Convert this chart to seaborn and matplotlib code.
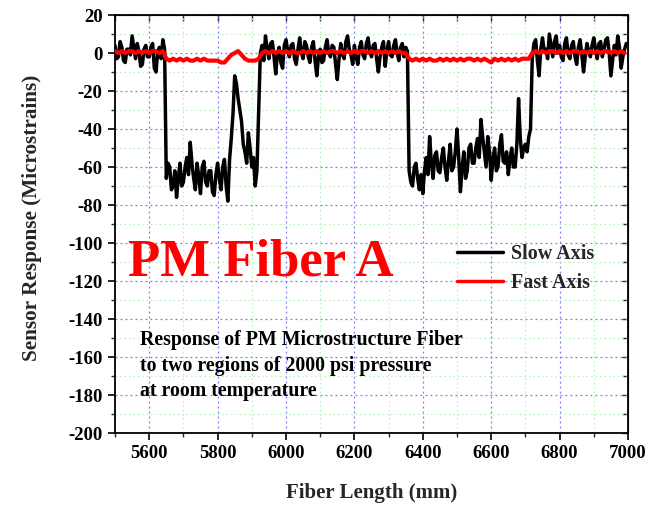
import numpy as np
import pandas as pd
import matplotlib
matplotlib.use("Agg")
import matplotlib.pyplot as plt
import seaborn as sns
from matplotlib.ticker import MultipleLocator

# Fiber length sample grids (mm)
slow_length = np.arange(5500, 7000, 5)
fast_length = np.arange(5500, 7000, 10)

# Slow axis response (microstrains), one row per 100 mm (5 mm spacing)
slow_axis = [
    4, -3, -2, 6, 3, -4, -5, 2, 2, -1, 9, 3, -3, 5, 1, -7, -6, 2, 4, -2,                      # 5500
    -2, 3, 5, -8, -10, 1, 3, -3, 7, 2, -66, -58, -60, -72, -70, -62, -76, -66, -58, -70,      # 5600
    -68, -60, -55, -64, -47, -58, -66, -72, -58, -65, -74, -60, -57, -68, -70, -62, -62, -73, -75, -64,  # 5700
    -58, -66, -72, -60, -56, -70, -78, -56, -45, -32, -12, -16, -24, -30, -36, -48, -52, -58, -42, -50,  # 5800
    -60, -55, -70, -62, -30, 0, 4, -4, 9, 2, -3, 5, 6, -2, -11, 0, 3, -5, -8, 4,              # 5900
    7, 1, -2, 4, 5, -3, -6, 2, 8, 0, -3, 6, 4, -2, -5, 3, 6, -4, -12, -2,                     # 6000
    2, -5, -4, 3, 7, 0, -2, 4, 3, -6, -14, -3, 5, -1, -3, 6, 9, 2, -1, -6,                    # 6100
    4, -2, -6, 3, 6, -1, -3, 5, 8, 1, -2, 4, 5, -3, -10, -2, 3, 6, -7, 1,                     # 6200
    6, -1, -2, 4, 7, 0, -4, 3, 5, -2, 3, 1, -62, -68, -70, -60, -58, -66, -72, -64,           # 6300
    -74, -62, -55, -64, -44, -58, -66, -54, -52, -62, -63, -55, -50, -60, -67, -57, -48, -62, -60, -52,  # 6400
    -40, -55, -73, -60, -52, -66, -62, -50, -48, -58, -58, -50, -45, -55, -35, -44, -52, -60, -44, -52,  # 6500
    -67, -56, -50, -62, -60, -48, -43, -57, -58, -52, -64, -56, -50, -60, -60, -48, -24, -45, -55, -50,  # 6600
    -48, -52, -44, -40, -3, 5, 7, -4, -12, 2, 8, 1, 2, -3, 10, 4, -2, 6, 9, 0,                # 6700
    4, -2, -4, 5, 8, -1, -3, 4, 6, -2, -6, 3, 7, -1, -10, -2, 5, 1, -2, 4,                    # 6800
    8, 2, -3, 5, 6, -2, 2, 7, 8, 0, -12, -4, 4, -1, 9, 3, -8, -2, 2, 5,                       # 6900
]

# Fast axis response (microstrains), 10 mm spacing
fast_axis = [
    1, 0, 1, 0, 1, 1, 0, 1, 0, 1,                # 5500
    0, 1, 1, 0, 1, -3, -4, -3, -4, -3,           # 5600
    -4, -3, -4, -4, -3, -4, -3, -4, -4, -4,      # 5700
    -4, -5, -5, -3, -1, 0, 1, -1, -3, -4,        # 5800
    -4, -4, -3, 0, 1, 0, 1, 0, 1, 0,             # 5900
    1, 0, 1, 0, 0, 1, 0, 1, 0, 1,                # 6000
    0, 1, 0, 1, 1, 0, 1, 0, 1, 0,                # 6100
    1, 0, 1, 1, 0, 1, 0, 1, 0, 1,                # 6200
    0, 1, 0, 1, 0, 0, -3, -4, -3, -4,            # 6300
    -3, -4, -3, -4, -4, -3, -4, -3, -4, -3,      # 6400
    -4, -3, -4, -3, -3, -4, -3, -4, -3, -4,      # 6500
    -5, -3, -4, -3, -4, -3, -4, -3, -4, -3,      # 6600
    -3, -3, 0, 1, 0, 1, 0, 1, 1, 0,              # 6700
    1, 0, 1, 0, 1, 1, 0, 1, 0, 1,                # 6800
    0, 1, 0, 1, 1, 0, 1, 0, 1, 0,                # 6900
]

series_names = ["Slow Axis", "Fast Axis"]
series_colors = ["#000000", "#ff0000"]

title_text = "PM Fiber A"
note_lines = ["Response of PM Microstructure Fiber",
              "to two regions of 2000 psi pressure",
              "at room temperature"]

x_ticks = [5600, 5800, 6000, 6200, 6400, 6600, 6800, 7000]
y_ticks = list(range(-200, 21, 20))

n_slow = min(len(slow_length), len(slow_axis))
n_fast = min(len(fast_length), len(fast_axis))
df_slow = pd.DataFrame({"Fiber Length (mm)": slow_length[:n_slow],
                        "Response": np.array(slow_axis[:n_slow], dtype=float)})
df_fast = pd.DataFrame({"Fiber Length (mm)": fast_length[:n_fast],
                        "Response": np.array(fast_axis[:n_fast], dtype=float)})

sns.set_style("white")
plt.rcParams["font.family"] = ["Liberation Serif", "DejaVu Serif"]
plt.rcParams["font.weight"] = "bold"

fig = plt.figure(figsize=(6.61, 5.05), dpi=100)
ax = fig.add_axes([115 / 661, 1 - 433 / 505, 513 / 661, 418 / 505])

# grid
ax.xaxis.set_major_locator(MultipleLocator(200))
ax.xaxis.set_minor_locator(MultipleLocator(100))
ax.yaxis.set_major_locator(MultipleLocator(20))
ax.yaxis.set_minor_locator(MultipleLocator(10))
ax.grid(which="major", color="#7878ff", linestyle=(0, (1.5, 2.5)), linewidth=0.9, zorder=0)
ax.grid(which="minor", color="#b8f0b8", linestyle=(0, (1.5, 2.5)), linewidth=0.8, zorder=0)
ax.set_axisbelow(True)

sns.lineplot(data=df_slow, x="Fiber Length (mm)", y="Response",
             color=series_colors[0], linewidth=2.5, ax=ax, label=series_names[0], zorder=3)
sns.lineplot(data=df_fast, x="Fiber Length (mm)", y="Response",
             color=series_colors[1], linewidth=3.0, ax=ax, label=series_names[1], zorder=4)

ax.set_xlim(5500, 7000)
ax.set_ylim(-200, 20)
ax.set_xticks(x_ticks)
ax.set_yticks(y_ticks)
ax.set_xticklabels([str(t) for t in x_ticks], fontsize=13.5, fontweight="bold")
ax.set_yticklabels([str(t) for t in y_ticks], fontsize=13.5, fontweight="bold")

for sp in ax.spines.values():
    sp.set_visible(True)
    sp.set_color("black")
    sp.set_linewidth(1.3)

ax.tick_params(which="major", direction="out", length=5, width=1.2, pad=4,
               bottom=True, left=True, top=False, right=False, colors="black")
ax.tick_params(which="minor", direction="out", length=3, width=1.0,
               bottom=True, left=True, top=False, right=False)
# inward ticks on top/right via secondary axes
sec_x = ax.secondary_xaxis("top")
sec_x.xaxis.set_major_locator(MultipleLocator(100))
sec_x.tick_params(direction="in", length=4, width=1.0, labeltop=False)
sec_y = ax.secondary_yaxis("right")
sec_y.yaxis.set_major_locator(MultipleLocator(10))
sec_y.tick_params(direction="in", length=4, width=1.0, labelright=False)

ax.set_xlabel("Fiber Length (mm)", fontsize=15, fontweight="bold")
ax.set_ylabel("Sensor Response (Microstrains)", fontsize=15.3, fontweight="bold")
ax.xaxis.set_label_coords(0.5, -0.12)
ax.yaxis.set_label_coords(-0.142, 0.515)

ax.text((128 - 115) / 513, (433 - 275) / 418, title_text, transform=ax.transAxes,
        color="#ff0000", fontsize=38, fontweight="bold", ha="left", va="baseline", zorder=5)

for i, line in enumerate(note_lines):
    ax.text((140 - 115) / 513, (433 - (345 + 25.5 * i)) / 418, line, transform=ax.transAxes,
            color="black", fontsize=14.3, fontweight="bold", ha="left", va="baseline", zorder=5)

leg = ax.legend(loc="center left", bbox_to_anchor=((457 - 115) / 513, (433 - 268.5) / 418),
                frameon=False, borderpad=0, borderaxespad=0, handlelength=2.3, handletextpad=0.4,
                labelspacing=0.45, prop={"family": "Liberation Serif", "weight": "bold", "size": 14.5})
for lh, c in zip(leg.get_lines(), series_colors):
    lh.set_color(c)
    lh.set_linewidth(2.5)

fig.savefig("out.png", dpi=100, facecolor="white")
